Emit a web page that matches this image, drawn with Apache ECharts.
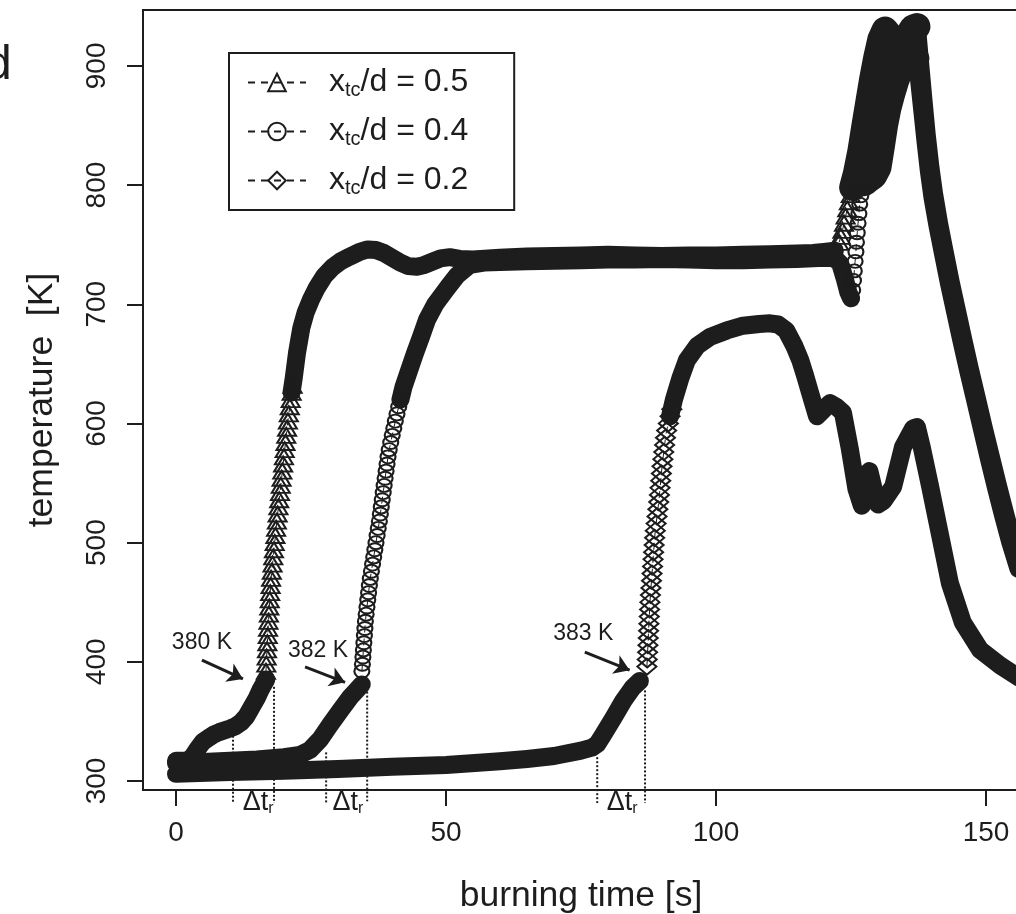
<!DOCTYPE html>
<html>
<head>
<meta charset="utf-8">
<title>temperature vs burning time</title>
<script src="https://cdn.jsdelivr.net/npm/echarts@6/dist/echarts.min.js"></script>
<style>
  html, body { margin: 0; padding: 0; background: #fff; }
  #chart { width: 1016px; height: 914px; }
</style>
</head>
<body>
<div id="chart"></div>
<script>
// axis ticks
const timeTicks = [0, 50, 100, 150];
const tempTicks = [300, 400, 500, 600, 700, 800, 900];

// legend
const legendNames = ['xtc/d = 0.5', 'xtc/d = 0.4', 'xtc/d = 0.2'];
const legendRatios = ['0.5', '0.4', '0.2'];

// x_tc/d = 0.5 : [time s, temperature K]
const low05 = [[0,317],[2,317],[3,320],[4,327],[5,333],[6,336],[7,339],[8,341],[10,344],[11,346],[12,349],[13,354],[14,362],[15,370],[15.6,376],[16.2,381],[16.7,385]];
const rise05 = [[16.66,392],[16.72,398],[16.79,404],[16.85,410],[16.92,416],[16.99,422],[17.05,428],[17.12,434],[17.2,440],[17.28,446],[17.36,452],[17.44,458],[17.52,464],[17.61,470],[17.74,476],[17.88,482],[18.01,488],[18.14,494],[18.28,500],[18.41,506],[18.54,512],[18.68,518],[18.82,524],[18.97,530],[19.11,536],[19.26,542],[19.4,548],[19.55,554],[19.69,560],[19.84,566],[19.99,572],[20.13,578],[20.28,584],[20.42,590],[20.57,596],[20.72,602],[20.89,608],[21.07,614],[21.24,620],[21.42,626],[21.6,632]];
const high05 = [[21.4,626],[21.8,638],[22.4,659],[23.2,680],[24,693],[25,704],[26.1,714],[27.5,724],[29,731],[30.5,736],[32.2,740],[34,744],[35.5,746],[37,745.5],[38.5,743],[40,739],[41.5,735],[43,732],[44.6,731.5],[46,733],[47.6,736],[49,738.5],[50.7,739.5],[52.5,738],[55,737.5],[60,739],[65,740],[70,740.5],[75,741],[80,741.5],[85,741],[90,740.5],[95,741],[100,741],[105,741.5],[110,742],[115,742.5],[118,743],[120,744],[122,745],[122.8,752],[123.1,757],[123.4,762],[123.7,768],[124,774],[124.3,780],[124.6,786],[124.95,792],[125.3,798],[126,810],[126.8,828],[127.5,848],[128.3,870],[129,889],[129.8,908],[130.5,922],[131.3,930],[132,926],[132.8,918],[133.5,914],[134.3,915],[135,920],[135.8,927],[136.5,932],[137.2,933],[137.8,902],[138.4,872],[139,843],[139.7,815],[140.4,792],[141.3,768],[142.3,745],[143.4,720],[144.6,695],[145.8,670],[147,646],[148.3,621],[149.6,596],[150.9,572],[152.2,548],[153.5,525],[154.8,503],[156,484]];

// x_tc/d = 0.4
const low04 = [[0,315],[5,316],[10,317],[15,318],[20,320],[23,322],[24.8,326],[26.7,335],[28.5,347],[30.4,359],[32.2,370],[33.4,376],[34.4,381]];
const rise04 = [[34.42,392],[34.52,398],[34.61,404],[34.7,410],[34.79,416],[34.89,422],[34.98,428],[35.07,434],[35.21,440],[35.36,446],[35.51,452],[35.66,458],[35.81,464],[35.98,470],[36.19,476],[36.4,482],[36.61,488],[36.82,494],[37.03,500],[37.24,506],[37.45,512],[37.66,518],[37.84,524],[38.01,530],[38.19,536],[38.37,542],[38.54,548],[38.72,554],[38.9,560],[39.08,566],[39.26,572],[39.48,578],[39.76,584],[40.04,590],[40.33,596],[40.61,602],[40.92,608],[41.24,614],[41.56,620],[41.88,626]];
const high04 = [[41.56,620],[42.13,630.6],[43.2,645],[44.26,659],[45.4,673],[46.48,687],[48,700],[50.37,714.5],[52,724],[54.4,733],[57,735],[60,735.5],[65,736],[70,736.5],[75,737],[80,737.5],[85,737.5],[90,738],[95,737.5],[100,737],[105,737],[110,737.5],[115,738],[120,739],[122,738.5],[123,734],[123.8,722],[124.5,710],[125,705],[125.3,712],[125.45,720],[125.6,728],[125.75,736],[125.9,744],[126,752],[126.15,760],[126.3,768],[126.45,776],[126.6,784],[126.8,791],[127,797],[127.5,802],[128.3,805],[129.2,808],[130,815],[130.6,832],[131.2,850],[131.8,864],[132.5,876],[133.3,888],[134.2,899],[135.2,908],[136.2,912],[137,906],[137.6,888],[138.2,862],[138.8,836],[139.4,812],[140.1,789],[141,766],[142,743],[143.1,718],[144.3,693],[145.5,668],[146.7,644],[148,619],[149.3,594],[150.6,569],[151.9,545],[153.2,522],[154.5,500],[156,478]];

// x_tc/d = 0.2
const low02 = [[0,306],[10,307.5],[20,308.5],[30,310],[40,312],[50,313.5],[60,316.5],[65,318.5],[70,321],[75,325.5],[77,328],[78,331],[79,338],[81,353],[82.8,367],[84.5,378],[85.9,384]];
const rise02 = [[87.2,396],[87.26,402],[87.33,408],[87.39,414],[87.45,420],[87.51,426],[87.57,432],[87.64,438],[87.7,444],[87.76,450],[87.85,456],[87.95,462],[88.05,468],[88.15,474],[88.24,480],[88.34,486],[88.44,492],[88.54,498],[88.63,504],[88.75,510],[88.91,516],[89.07,522],[89.23,528],[89.39,534],[89.52,540],[89.64,546],[89.76,552],[89.88,558],[90,564],[90.16,570],[90.32,576],[90.48,582],[90.64,588],[90.85,594],[91.17,600],[91.49,606],[91.81,612]];
const high02 = [[91.49,606],[92.2,620],[93.4,638],[94.6,653],[96.5,665],[98.9,672.6],[102,678],[105,682],[108,683.5],[110,684],[111.5,683],[113,678],[114.5,665],[115.6,653],[116.5,640],[117.4,626],[118.7,606],[120,612],[121.1,617],[122.3,614],[123.5,609],[124.8,578],[126,545],[127,531],[127.7,548],[128.4,560],[129.2,545],[130,532],[131,535],[132.8,547],[134.6,580],[136.5,596],[137.2,597],[138.1,580],[139.6,548],[141.5,506],[143.3,466],[145.7,433],[148.9,410],[152.6,397],[156,387]];

// annotations
const noteTexts = ['380 K', '382 K', '383 K'];
const notePos = [[4.8, 415.8], [26.3, 409.1], [75.4, 423.4]];
const arrows = [[[4.8, 401.5], [12.4, 385.6]], [[23.9, 395.7], [31.3, 382.8]], [[75.7, 408.2], [84.0, 393.0]]];
const deltaLines = [[10.56, 338, 281.5], [18.15, 379, 281.5], [27.8, 324, 281.5], [35.4, 375, 283], [78, 320, 281.5], [86.85, 376, 281.5]];
const deltaPos = [[15.2, 282], [31.85, 282], [82.6, 282]];

const INK = '#1d1d1d';
const FONT = '"Liberation Sans", Arial, Helvetica, sans-serif';

// wide: time window where the marks pile up into a broad mass
// open: window where the marks stand apart (no solid band underneath)
const curves = [
  { name: legendNames[0], low: low05, rise: rise05, high: high05, symbol: 'triangle', size: [18, 15], wide: [125.3, 137.5], open: [122.6, 125] },
  { name: legendNames[1], low: low04, rise: rise04, high: high04, symbol: 'circle', size: [15, 13], wide: [127.5, 137], open: [125.2, 127.2] },
  { name: legendNames[2], low: low02, rise: rise02, high: high02, symbol: 'diamond', size: [19, 16], wide: null, open: null }
];

function inWindow(win) {
  return function (p) { return !!win && p[0] >= win[0] && p[0] <= win[1]; };
}

const chart = echarts.init(document.getElementById('chart'));

const series = [];

// dotted Δt_r marks, drawn under the curves
series.push({
  type: 'custom',
  name: 'marks',
  clip: false,
  silent: true,
  z: 1,
  data: deltaLines,
  renderItem: function (params, api) {
    const p1 = api.coord([api.value(0), api.value(1)]);
    const p2 = api.coord([api.value(0), api.value(2)]);
    return {
      type: 'line',
      shape: { x1: p1[0], y1: p1[1], x2: p2[0], y2: p2[1] },
      style: { stroke: INK, lineWidth: 2, lineDash: [2, 2] }
    };
  }
});

const markStyle = { color: 'rgba(255,255,255,0)', borderColor: INK, borderWidth: 2 };

curves.forEach(function (c, i) {
  const isOpen = inWindow(c.open);
  const highBand = c.high.map(function (p) { return isOpen(p) ? [p[0], '-'] : p; });
  [c.low, highBand].forEach(function (part, k) {
    series.push({
      type: 'line',
      name: 'band' + i + '_' + k,
      data: part,
      showSymbol: false,
      connectNulls: false,
      silent: true,
      z: 2,
      lineStyle: { color: INK, width: 18, cap: 'round', join: 'round' }
    });
  });
  if (c.wide) {
    series.push({
      type: 'line',
      name: 'mass' + i,
      data: c.high.filter(inWindow(c.wide)),
      showSymbol: false,
      silent: true,
      z: 2,
      lineStyle: { color: INK, width: 27, cap: 'round', join: 'round' }
    });
  }
  series.push({
    type: 'line',
    name: c.name,
    data: c.rise,
    symbol: c.symbol,
    symbolSize: c.size,
    silent: true,
    z: 3,
    lineStyle: { color: INK, width: 1, type: [7, 6] },
    itemStyle: markStyle
  });
  if (c.open) {
    series.push({
      type: 'line',
      name: 'open' + i,
      data: c.high.filter(isOpen),
      symbol: c.symbol,
      symbolSize: c.size,
      silent: true,
      z: 3,
      lineStyle: { color: INK, width: 1, type: [7, 6] },
      itemStyle: markStyle
    });
  }
});

// text notes + arrows
series.push({
  type: 'custom',
  name: 'notes',
  clip: false,
  silent: true,
  z: 5,
  data: notePos,
  renderItem: function (params, api) {
    const p = api.coord([api.value(0), api.value(1)]);
    return {
      type: 'text',
      x: p[0], y: p[1],
      style: { text: noteTexts[params.dataIndex], fill: INK, font: '23px ' + FONT, align: 'center', verticalAlign: 'middle' }
    };
  },
  markLine: {
    silent: true,
    animation: false,
    symbol: ['none', 'arrow'],
    symbolSize: 15,
    label: { show: false },
    itemStyle: { color: INK },
    lineStyle: { color: INK, width: 3, type: 'solid' },
    data: arrows.map(function (a) { return [{ coord: a[0] }, { coord: a[1] }]; })
  }
});

series.push({
  type: 'custom',
  name: 'deltaLabels',
  clip: false,
  silent: true,
  z: 5,
  data: deltaPos,
  renderItem: function (params, api) {
    const p = api.coord([api.value(0), api.value(1)]);
    return {
      type: 'text',
      x: p[0], y: p[1],
      style: {
        text: '{d|\u0394t}{r|r}',
        align: 'center', verticalAlign: 'middle',
        rich: {
          d: { fontSize: 27, fontFamily: FONT, fill: INK, lineHeight: 30 },
          r: { fontSize: 16, fontFamily: FONT, fill: INK, lineHeight: 17, padding: [13, 0, 0, 0] }
        }
      }
    };
  }
});

const option = {
  animation: false,
  backgroundColor: '#fff',
  textStyle: { fontFamily: FONT },
  grid: {
    left: 143, top: 10, right: -3, bottom: 124,
    show: true, borderColor: INK, borderWidth: 2,
    outerBoundsMode: 'none', containLabel: false
  },
  legend: {
    data: legendNames,
    orient: 'vertical',
    left: 229, top: 53,
    itemWidth: 58, itemHeight: 22, itemGap: 14,
    padding: [12, 46, 12, 18],
    borderColor: INK, borderWidth: 2, borderRadius: 0,
    selectedMode: false,
    formatter: function (name) {
      return '{p|x}{s|tc}{m|/d = ' + legendRatios[legendNames.indexOf(name)] + '}';
    },
    textStyle: {
      color: INK, fontFamily: FONT, fontSize: 32,
      rich: {
        p: { fontSize: 32, lineHeight: 36, padding: [0, 0, 0, 18], color: INK, fontFamily: FONT },
        m: { fontSize: 32, lineHeight: 36, color: INK, fontFamily: FONT },
        s: { fontSize: 20, lineHeight: 20, padding: [15, 0, 0, 0], color: INK, fontFamily: FONT }
      }
    }
  },
  xAxis: {
    type: 'value',
    min: -6.11, max: 156.1,
    name: 'burning time [s]',
    nameLocation: 'middle',
    nameGap: 88,
    nameTextStyle: { color: INK, fontSize: 35.5, fontFamily: FONT },
    axisLine: { show: true, onZero: false, lineStyle: { color: INK, width: 2 } },
    axisTick: { show: true, inside: false, length: 16, lineStyle: { color: INK, width: 2 }, customValues: timeTicks },
    axisLabel: { color: INK, fontSize: 28, fontFamily: FONT, margin: 29, customValues: timeTicks },
    splitLine: { show: false }
  },
  yAxis: {
    type: 'value',
    min: 292.45, max: 946.9,
    name: 'temperature  [K]',
    nameLocation: 'middle',
    nameGap: 83,
    nameRotate: 90,
    nameTextStyle: { color: INK, fontSize: 35.5, fontFamily: FONT },
    axisLine: { show: true, onZero: false, lineStyle: { color: INK, width: 2 } },
    axisTick: { show: true, inside: false, length: 16, lineStyle: { color: INK, width: 2 }, customValues: tempTicks },
    axisLabel: { color: INK, fontSize: 28, fontFamily: FONT, margin: 32, rotate: 90, customValues: tempTicks },
    splitLine: { show: false }
  },
  graphic: [{
    type: 'text',
    x: -15, y: 42,
    style: { text: 'd', fill: INK, font: '48px ' + FONT }
  }],
  series: series
};

chart.setOption(option);
</script>
</body>
</html>
